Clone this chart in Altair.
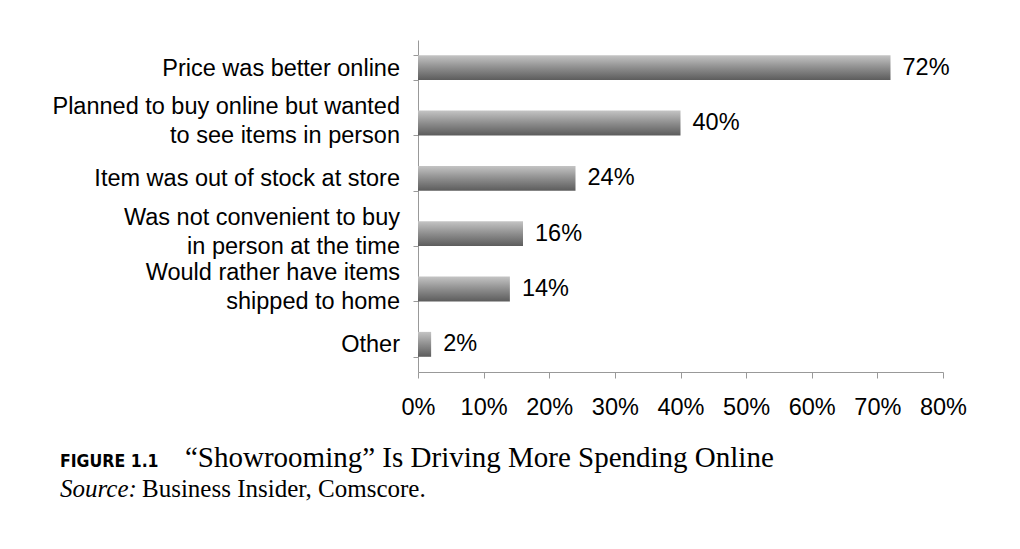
import altair as alt
import pandas as pd

categories = [
    "Price was better online",
    "Planned to buy online but wanted\nto see items in person",
    "Item was out of stock at store",
    "Was not convenient to buy\nin person at the time",
    "Would rather have items\nshipped to home",
    "Other",
]
values = [72, 40, 24, 16, 14, 2]
x_ticks = [0, 10, 20, 30, 40, 50, 60, 70, 80]
fig_label = "FIGURE 1.1"
fig_title = "\u201cShowrooming\u201d Is Driving More Spending Online"
source_label = "Source:"
source_text = "Business Insider, Comscore."

df = pd.DataFrame({"reason": categories, "pct": values})

W, H = 525, 332
sans = "Liberation Sans"
serif = "Liberation Serif"
FS = 23.5

gradient = alt.Gradient(
    gradient="linear",
    stops=[
        alt.GradientStop(color="#c4c4c4", offset=0),
        alt.GradientStop(color="#8e8e8e", offset=0.5),
        alt.GradientStop(color="#5c5c5c", offset=1),
    ],
    x1=0, x2=0, y1=0, y2=1,
)

x_enc = alt.X(
    "pct:Q",
    scale=alt.Scale(domain=[0, 80], nice=False),
    axis=alt.Axis(
        values=x_ticks, labelExpr="datum.value + '%'", title=None, grid=False,
        labelFontSize=FS, labelFont=sans, labelColor="#000", labelPadding=17,
        labelOverlap=False, labelFlush=False,
        tickSize=6, tickColor="#999", domainColor="#999",
    ),
)
y_enc = alt.Y(
    "reason:N",
    sort=categories,
    scale=alt.Scale(paddingInner=0.55, paddingOuter=0.275),
    axis=alt.Axis(
        title=None, labels=False,
        tickSize=5, tickColor="#999", domainColor="#999", tickBand="extent",
    ),
)

bars = alt.Chart(df).mark_bar(color=gradient).encode(x=x_enc, y=y_enc)
labels = alt.Chart(df).transform_calculate(lbl="datum.pct + '%'").mark_text(
    align="left", baseline="middle", dx=12, fontSize=FS, font=sans, color="#000"
).encode(x="pct:Q", y=alt.Y("reason:N", sort=categories), text="lbl:N")

cat_base = alt.Chart(df).transform_calculate(
    lines="split(datum.reason, '\\n')",
    n="length(split(datum.reason, '\\n'))",
)
cat1 = cat_base.transform_filter("datum.n == 1").mark_text(
    align="right", baseline="middle", fontSize=FS, font=sans, color="#000", dy=1
).encode(x=alt.value(-18), y=alt.Y("reason:N", sort=categories), text="lines:N")
cat2 = cat_base.transform_filter("datum.n == 2").mark_text(
    align="right", baseline="middle", fontSize=FS, font=sans, color="#000",
    dy=-16, lineHeight=29,
).encode(x=alt.value(-18), y=alt.Y("reason:N", sort=categories), text="lines:N")

def cap(text, x, y, font, size, weight="normal", style="normal"):
    return alt.Chart(pd.DataFrame({"t": [text]})).mark_text(
        align="left", baseline="alphabetic", font=font, fontSize=size,
        fontWeight=weight, fontStyle=style, color="#000",
    ).encode(x=alt.value(x), y=alt.value(y), text="t:N")

caps = [
    cap(fig_label, -358, 427, "DejaVu Sans Condensed", 17.5, weight="bold"),
    cap(fig_title, -233, 427, serif, 29),
    cap(source_label, -358, 457, serif, 25, style="italic"),
    cap(source_text, -276, 457, serif, 25),
]

chart = alt.layer(bars, labels, cat1, cat2, *caps).properties(
    width=W, height=H,
    autosize=alt.AutoSizeParams(type="none"),
    padding={"left": 410, "top": 32, "right": 60, "bottom": 160},
).configure_view(stroke=None)

chart.save("out.html", embed_options={"renderer": "svg", "actions": False})
